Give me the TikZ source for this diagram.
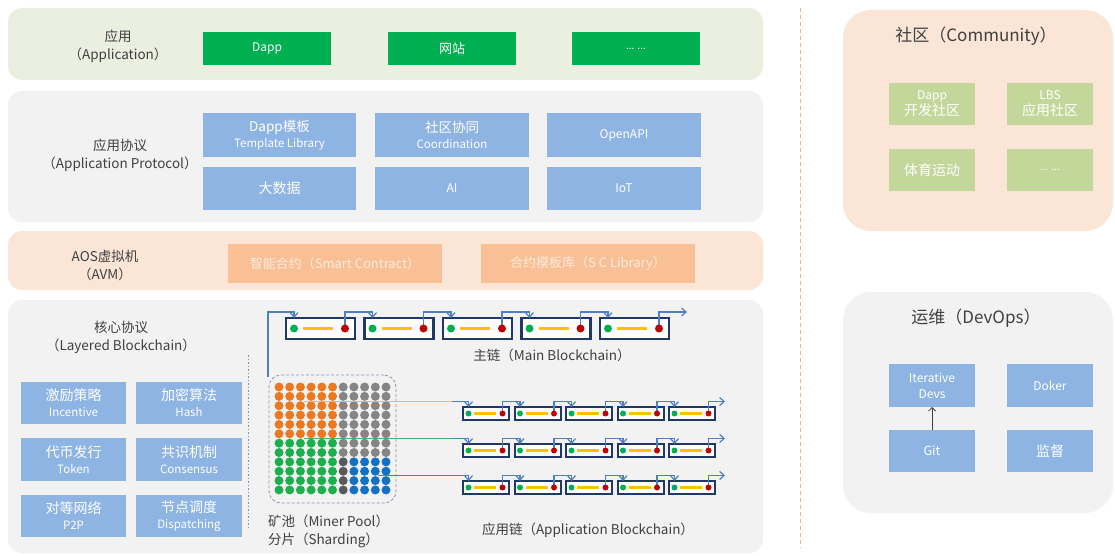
\documentclass[tikz,border=0pt]{standalone}
\usepackage{fontspec}
\setmainfont{Noto Sans CJK SC}
\usetikzlibrary{arrows.meta,calc}

\definecolor{appbg}{HTML}{EBEFDF}
\definecolor{greybg}{HTML}{F2F2F2}
\definecolor{peachbg}{HTML}{FBE5D6}
\definecolor{appgreen}{HTML}{00B050}
\definecolor{boxblue}{HTML}{8EB4E3}
\definecolor{aosorange}{HTML}{F9C095}
\definecolor{aostext}{HTML}{FDEBDD}
\definecolor{comgreen}{HTML}{C4D79B}
\definecolor{labelgray}{HTML}{404040}
\definecolor{navy}{HTML}{1F3864}
\definecolor{linkblue}{HTML}{4F7FBF}
\definecolor{dotgreen}{HTML}{00B050}
\definecolor{dotred}{HTML}{C00000}
\definecolor{dotyellow}{HTML}{FFC000}
\definecolor{poolorange}{HTML}{E97A23}
\definecolor{poolgrey}{HTML}{858585}
\definecolor{pooldark}{HTML}{595959}
\definecolor{poolgreen}{HTML}{1DAF4E}
\definecolor{poolblue}{HTML}{1370C2}
\definecolor{feedorange}{HTML}{F4B183}
\definecolor{feedgreen}{HTML}{4CAF6A}
\definecolor{dashblue}{HTML}{8497B0}

% a box given by its corners: name, x1, y1, x2, y2, style, text
\newcommand\rbox[7]{%
  \node[#6, minimum width={(#4-#2)*1pt}, minimum height={(#5-#3)*1pt}]
    (#1) at ({(#2+#4)/2},{(#3+#5)/2}) {#7};}

\begin{document}
\begin{tikzpicture}[x=1pt,y=-1pt,
  every node/.style={inner sep=0pt, outer sep=0pt},
  layerbox/.style={rounded corners=14pt, draw=none},
  sidebox/.style={rounded corners=28pt, draw=none},
  greenbox/.style={fill=appgreen, text=white, font=\fontsize{12}{15}\selectfont},
  bluebox/.style={fill=boxblue, text=white, align=center, font=\fontsize{11.5}{16}\selectfont},
  aosbox/.style={fill=aosorange, text=aostext, font=\fontsize{13}{16}\selectfont},
  combox/.style={fill=comgreen, text=white, align=center, font=\fontsize{12}{16}\selectfont},
  lbl/.style={text=labelgray, align=center, font=\fontsize{13.5}{18}\selectfont},
  sidetitle/.style={text=labelgray, font=\fontsize{17}{20}\selectfont},
  mainblock/.style={draw=navy, line width=2.3pt, fill=white, minimum width=69pt, minimum height=21pt},
  appblock/.style={draw=navy, line width=2pt, fill=white, minimum width=46pt, minimum height=13pt},
  linkarrow/.style={draw=linkblue, line width=1.2pt, -{Straight Barb[length=4.5pt,width=8pt]}},
  feed/.style={line width=1pt}
]
\useasboundingbox (0,0) rectangle (1115,556);
\fill[white] (0,0) rectangle (1115,556);

% ---------------- layer backgrounds ----------------
\rbox{applayer}{8}{8}{763}{80}{layerbox, fill=appbg}{}
\rbox{protlayer}{8}{91}{763}{222}{layerbox, fill=greybg}{}
\rbox{aoslayer}{8}{231}{763}{290}{layerbox, fill=peachbg}{}
\rbox{corelayer}{8}{300}{763}{553}{layerbox, fill=greybg}{}

% ---------------- application ----------------
\node[lbl] (applbl) at (118,46) {应用\\（Application）};
\rbox{dapp}{203}{32}{331}{65}{greenbox}{Dapp}
\rbox{web}{388}{32}{516}{65}{greenbox, font=\fontsize{13}{15}\selectfont}{网站}
\rbox{appmore}{572}{32}{700}{65}{greenbox, font=\fontsize{10}{12}\selectfont}{... ...}

% ---------------- application protocol ----------------
\node[lbl] (protlbl) at (120,155.5) {应用协议\\（Application Protocol）};
\rbox{tpl}{203}{113}{356}{157}{bluebox}{{\fontsize{13.5}{16}\selectfont Dapp模板}\\Template Library}
\rbox{coord}{375}{113}{529}{157}{bluebox}{{\fontsize{13.5}{16}\selectfont 社区协同}\\Coordination}
\rbox{openapi}{547}{113}{701}{157}{bluebox, font=\fontsize{12}{15}\selectfont}{OpenAPI}
\rbox{bigdata}{203}{167}{356}{210}{bluebox, font=\fontsize{14}{16}\selectfont}{大数据}
\rbox{ai}{375}{167}{529}{210}{bluebox, font=\fontsize{12}{15}\selectfont}{AI}
\rbox{iot}{547}{167}{701}{210}{bluebox, font=\fontsize{12}{15}\selectfont}{IoT}

% ---------------- virtual machine ----------------
\node[lbl] (aoslbl) at (105,265) {AOS虚拟机\\（AVM）};
\rbox{smart}{228}{244}{442}{283}{aosbox}{智能合约（Smart Contract）}
\rbox{sclib}{481}{244}{695}{283}{aosbox}{合约模板库（S C Library）}

% ---------------- core protocol ----------------
\node[lbl] (corelbl) at (121,337.5) {核心协议\\（Layered Blockchain）};
\draw[draw=dashblue, line width=0.8pt, dash pattern=on 1.5pt off 2pt] (248,355) -- (248,528);
\rbox{incent}{21}{382}{126}{424}{bluebox}{{\fontsize{14}{16}\selectfont 激励策略}\\Incentive}
\rbox{hash}{136}{382}{242}{424}{bluebox}{{\fontsize{14}{16}\selectfont 加密算法}\\Hash}
\rbox{token}{21}{438}{126}{481}{bluebox}{{\fontsize{14}{16}\selectfont 代币发行}\\Token}
\rbox{consensus}{136}{438}{242}{481}{bluebox}{{\fontsize{14}{16}\selectfont 共识机制}\\Consensus}
\rbox{ptp}{21}{495}{126}{537}{bluebox}{{\fontsize{14}{16}\selectfont 对等网络}\\P2P}
\rbox{dispatch}{136}{495}{242}{537}{bluebox}{{\fontsize{14}{16}\selectfont 节点调度}\\Dispatching}

% miner pool: grid of shards
\rbox{pool}{269}{375}{396}{503}{rounded corners=12pt, draw=dashblue, line width=0.8pt, dash pattern=on 3pt off 2pt}{}
\foreach \c in {0,...,5} \foreach \r in {0,...,5}
  \fill[poolorange] (279+\c*10.7, 387+\r*9.36) circle (4.5);
\foreach \c in {6,...,10} \foreach \r in {0,...,7}
  \fill[poolgrey] (279+\c*10.7, 387+\r*9.36) circle (4.5);
\foreach \c in {0,...,5} \foreach \r in {6,...,11}
  \fill[poolgreen] (279+\c*10.7, 387+\r*9.36) circle (4.5);
\foreach \r in {8,...,11}
  \fill[pooldark] (279+6*10.7, 387+\r*9.36) circle (4.5);
\foreach \c in {7,...,10} \foreach \r in {8,...,11}
  \fill[poolblue] (279+\c*10.7, 387+\r*9.36) circle (4.5);
\node[lbl, align=left, anchor=west] (poollbl) at (268,531) {矿池（Miner Pool）\\分片（Sharding）};

% main chain
\foreach \i in {1,...,5} {
  \pgfmathsetmacro\xa{286+(\i-1)*78.5}
  \node[mainblock] (mb\i) at (\xa+34.5, 328.5) {};
  \coordinate (mb\i-g) at (\xa+8, 328.5);
  \coordinate (mb\i-r) at (\xa+59, 328.5);
  \draw[dotyellow, line width=3pt] (\xa+17, 328.5) -- (\xa+47, 328.5);
}
\coordinate (poolup) at (268,377);
\coordinate (maintop) at (268,312);
\coordinate (mainend) at (687,312);
\draw[linkarrow] (poolup) -- (maintop) -| (mb1-g |- mb1.north);
\foreach \i/\j in {1/2,2/3,3/4,4/5}
  \draw[linkarrow] (mb\i-r) -- (mb\i-r |- maintop) -| (mb\j-g |- mb\j.north);
\draw[linkarrow] (mb5-r) -- (mb5-r |- maintop) -- (mainend);
\foreach \i in {1,...,5} {
  \fill[dotgreen] (mb\i-g) circle (4);
  \fill[dotred] (mb\i-r) circle (4);
}
\node[lbl] (mainlbl) at (552,355) {主链（Main Blockchain）};

% application chains
\foreach \r/\top in {1/407,2/444,3/481} {
  \foreach \i in {1,...,5} {
    \pgfmathsetmacro\xa{463+(\i-1)*51.5}
    \node[appblock] (a\r\i) at (\xa+23, \top+6.5) {};
    \coordinate (a\r\i-g) at (\xa+5.5, \top+6.5);
    \coordinate (a\r\i-r) at (\xa+39.5, \top+6.5);
    \draw[dotyellow, line width=2.5pt] (\xa+11, \top+6.5) -- (\xa+33, \top+6.5);
  }
  \coordinate (ajoin\r) at (452, \top-5.5);
  \coordinate (aend\r) at (725, \top-5.5);
  \foreach \i/\j in {1/2,2/3,3/4,4/5}
    \draw[linkarrow] (a\r\i-r) -- (a\r\i-r |- ajoin\r) -| (a\r\j-g |- a\r\j.north);
  \draw[linkarrow] (a\r5-r) -- (a\r5-r |- aend\r) -- (aend\r);
  \draw[linkarrow] (ajoin\r) -| (a\r1-g |- a\r1.north);
  \foreach \i in {1,...,5} {
    \fill[dotgreen] (a\r\i-g) circle (3);
    \fill[dotred] (a\r\i-r) circle (3);
  }
}
\coordinate (feedo) at (304,401.5);
\coordinate (feedg) at (304,438.5);
\coordinate (feedb) at (378,475.5);
\draw[feed, feedorange] (feedo) -- (ajoin1);
\draw[feed, feedgreen] (feedg) -- (ajoin2);
\draw[feed, linkblue] (feedb) -- (ajoin3);
\node[lbl] (applbl2) at (588,530) {应用链（Application Blockchain）};

% ---------------- separator ----------------
\draw[feedorange, line width=1pt, dash pattern=on 4pt off 3pt] (800,8) -- (800,548);

% ---------------- community ----------------
\rbox{community}{843}{10}{1113}{231}{sidebox, fill=peachbg}{}
\node[sidetitle] (comtitle) at (976,36) {社区（Community）};
\rbox{dappcom}{889}{83}{975}{125}{combox}{Dapp\\{\fontsize{14}{16}\selectfont 开发社区}}
\rbox{lbscom}{1007}{83}{1093}{125}{combox}{LBS\\{\fontsize{14}{16}\selectfont 应用社区}}
\rbox{sports}{889}{149}{975}{191}{combox, font=\fontsize{14}{16}\selectfont}{体育运动}
\rbox{commore}{1007}{149}{1093}{191}{combox, font=\fontsize{10}{12}\selectfont}{... ...}

% ---------------- devops ----------------
\rbox{devops}{843}{292}{1113}{513}{sidebox, fill=greybg}{}
\node[sidetitle] (devtitle) at (976,318) {运维（DevOps）};
\rbox{iter}{889}{364}{975}{407}{bluebox, font=\fontsize{12}{16}\selectfont}{Iterative\\Devs}
\rbox{doker}{1007}{364}{1093}{407}{bluebox, font=\fontsize{12}{15}\selectfont}{Doker}
\rbox{git}{889}{430}{975}{472}{bluebox, font=\fontsize{12.5}{15}\selectfont}{Git}
\rbox{monitor}{1007}{430}{1093}{472}{bluebox, font=\fontsize{14}{16}\selectfont}{监督}
\draw[labelgray, line width=0.8pt, -{Straight Barb[length=3.5pt,width=7pt]}] (git.north) -- (iter.south);
\end{tikzpicture}
\end{document}
